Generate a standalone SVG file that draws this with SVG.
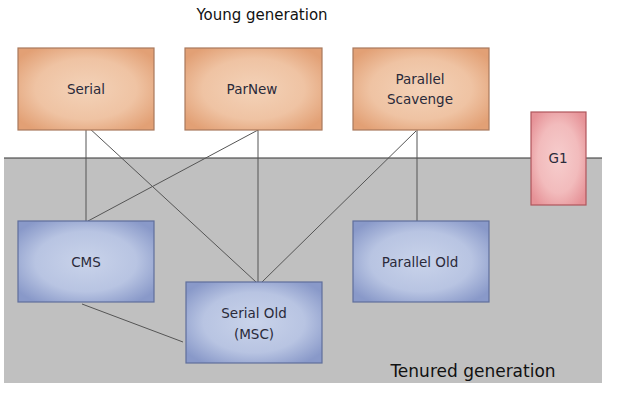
<svg xmlns="http://www.w3.org/2000/svg" width="625" height="403" viewBox="0 0 625 403">
<defs>
<radialGradient id="gOrange" cx="50%" cy="50%" r="62%">
<stop offset="0" stop-color="#f3d2b8"/>
<stop offset="0.6" stop-color="#efc3a3"/>
<stop offset="1" stop-color="#e2a075"/>
</radialGradient>
<radialGradient id="gBlue" cx="50%" cy="50%" r="62%">
<stop offset="0" stop-color="#c9d3ea"/>
<stop offset="0.6" stop-color="#b8c4e2"/>
<stop offset="1" stop-color="#8999c9"/>
</radialGradient>
<radialGradient id="gPink" cx="50%" cy="50%" r="62%">
<stop offset="0" stop-color="#f6cdcd"/>
<stop offset="0.6" stop-color="#f2bbbc"/>
<stop offset="1" stop-color="#e69297"/>
</radialGradient>
<style>
.lbl{font-family:"DejaVu Sans",sans-serif;font-size:13.5px;fill:#2a2a3a;text-anchor:middle;dominant-baseline:central}
.title{font-family:"DejaVu Sans",sans-serif;fill:#111;text-anchor:middle;dominant-baseline:central}
.young{fill:url(#gOrange);stroke:#a9795d;stroke-width:1.2}
.old{fill:url(#gBlue);stroke:#5f6e9c;stroke-width:1.2}
.g1{fill:url(#gPink);stroke:#b0565c;stroke-width:1.2}
.conn line{stroke:#555;stroke-width:1}
</style>
</defs>
<rect width="625" height="403" fill="#ffffff"/>
<rect x="4" y="158" width="598" height="225" fill="#c0c0c0"/>
<line x1="4" y1="158" x2="602" y2="158" stroke="#333" stroke-width="1.2"/>
<text class="title" x="262" y="15" font-size="15">Young generation</text>
<text class="title" x="473" y="371" font-size="17">Tenured generation</text>
<g id="connectors" class="conn">
<line x1="86" y1="130" x2="86" y2="221"/>
<line x1="88" y1="127" x2="256" y2="282"/>
<line x1="258" y1="130" x2="258" y2="282"/>
<line x1="258" y1="130" x2="88" y2="221"/>
<line x1="417" y1="130" x2="417" y2="221"/>
<line x1="416" y1="131" x2="262" y2="282"/>
<line x1="82" y1="304" x2="183" y2="342"/>
</g>
<g id="serial"><rect class="young" x="18" y="48" width="136" height="82"/><text class="lbl" x="86" y="89">Serial</text></g>
<g id="parnew"><rect class="young" x="185" y="48" width="137" height="82"/><text class="lbl" x="252" y="89">ParNew</text></g>
<g id="parallel-scavenge"><rect class="young" x="353" y="48" width="136" height="82"/><text class="lbl" x="420" y="79">Parallel</text><text class="lbl" x="420" y="99">Scavenge</text></g>
<g id="g1"><rect class="g1" x="531" y="112" width="55" height="93"/><text class="lbl" x="558" y="158">G1</text></g>
<g id="cms"><rect class="old" x="18" y="221" width="136" height="81"/><text class="lbl" x="86" y="262">CMS</text></g>
<g id="parallel-old"><rect class="old" x="353" y="221" width="136" height="81"/><text class="lbl" x="420" y="262">Parallel Old</text></g>
<g id="serial-old"><rect class="old" x="186" y="282" width="136" height="81"/><text class="lbl" x="254" y="313">Serial Old</text><text class="lbl" x="254" y="334">(MSC)</text></g>
</svg>
